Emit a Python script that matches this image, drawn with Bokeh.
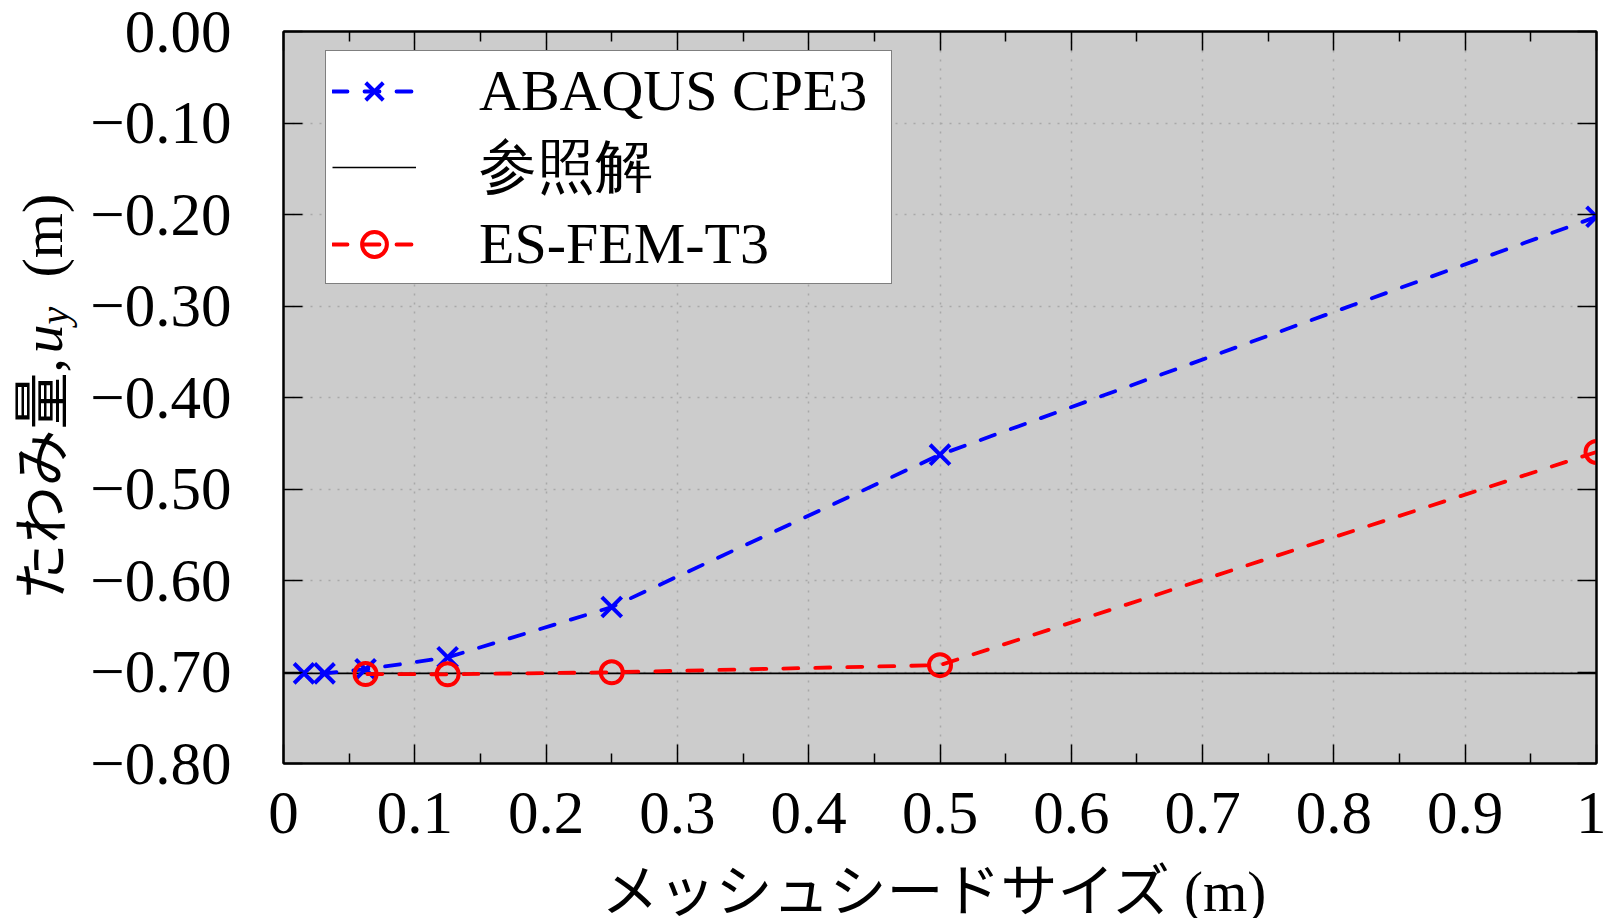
import math
from bokeh.plotting import figure
from bokeh.layouts import row, column
from bokeh.models import (Range1d, FixedTicker, LinearAxis, CustomJSTickFormatter,
                          Legend, LegendItem, Label)
from bokeh.embed import file_html
from bokeh.resources import INLINE

# ---------------- data ----------------
ABAQUS_H = [1.0, 0.5, 0.25, 0.125, 0.0625, 0.03125, 0.015625]
ABAQUS_UY = [-0.2025, -0.4625, -0.629, -0.684, -0.697, -0.7015, -0.7015]

ESFEM_H = [1.0, 0.5, 0.25, 0.125, 0.0625]
ESFEM_UY = [-0.4595, -0.6925, -0.7003, -0.7025, -0.7022]

REF_UY = -0.7015

X_LIMITS = [0.0, 1.0]
Y_LIMITS = [-0.8, 0.0]

X_TICKS = [0.0, 0.1, 0.2, 0.3, 0.4, 0.5, 0.6, 0.7, 0.8, 0.9, 1.0]
X_TICK_LABELS = ["0", "0.1", "0.2", "0.3", "0.4", "0.5", "0.6", "0.7", "0.8", "0.9", "1"]
X_MINOR_TICKS = [0.05, 0.15, 0.25, 0.35, 0.45, 0.55, 0.65, 0.75, 0.85, 0.95]

Y_TICKS = [-0.8, -0.7, -0.6, -0.5, -0.4, -0.3, -0.2, -0.1, 0.0]
Y_TICK_LABELS = ["\u22120.80", "\u22120.70", "\u22120.60", "\u22120.50", "\u22120.40",
                 "\u22120.30", "\u22120.20", "\u22120.10", "0.00"]

SERIES_LABELS = ["ABAQUS CPE3", "参照解", "ES-FEM-T3"]
X_LABEL = "メッシュシードサイズ (m)"
Y_LABEL_PARTS = ["たわみ量,", "u", "y", "(m)"]

# ---------------- style ----------------
SERIF = "Liberation Serif"
MIXED = "'Liberation Serif', 'Noto Sans CJK JP'"
BLUE = "#0000ff"
RED = "#ff0000"

TOTAL_W, TOTAL_H = 1606, 918
YLAB_W = 86          # strip on the left holding the y title
XLAB_H = 63          # strip at the bottom holding the x title
MAIN_W = TOTAL_W - YLAB_W
MAIN_H = TOTAL_H - XLAB_H

p = figure(width=MAIN_W, height=MAIN_H,
           x_range=Range1d(*X_LIMITS), y_range=Range1d(*Y_LIMITS),
           output_backend="svg", toolbar_location=None,
           min_border_left=197, min_border_right=10, min_border_top=31, min_border_bottom=92,
           background_fill_color="#cccccc", border_fill_color="white",
           outline_line_color="black", outline_line_width=2)

fmt_code = """
const i = tvals.findIndex(t => Math.abs(t - tick) < 1e-9);
return i >= 0 ? tlabels[i] : "";
"""
x_fmt = CustomJSTickFormatter(args=dict(tvals=X_TICKS, tlabels=X_TICK_LABELS), code=fmt_code)
y_fmt = CustomJSTickFormatter(args=dict(tvals=Y_TICKS, tlabels=Y_TICK_LABELS), code=fmt_code)
empty_fmt = CustomJSTickFormatter(code='return "";')

x_ticker = FixedTicker(ticks=X_TICKS, minor_ticks=X_MINOR_TICKS)
y_ticker = FixedTicker(ticks=Y_TICKS, minor_ticks=[])


def style_axis(ax):
    ax.major_tick_in = 19
    ax.major_tick_out = 0
    ax.minor_tick_in = 10
    ax.minor_tick_out = 0
    ax.axis_line_color = "black"
    ax.axis_line_width = 2
    ax.major_tick_line_color = "black"
    ax.major_tick_line_width = 1.5
    ax.minor_tick_line_color = "black"
    ax.minor_tick_line_width = 1.5
    ax.major_label_text_font = SERIF
    ax.major_label_text_font_size = "61px"
    ax.major_label_text_color = "black"


xa = p.xaxis[0]
xa.ticker = x_ticker
xa.formatter = x_fmt
style_axis(xa)
xa.major_label_standoff = 29

ya = p.yaxis[0]
ya.ticker = y_ticker
ya.formatter = y_fmt
style_axis(ya)
ya.major_label_standoff = 52

top_ax = LinearAxis(ticker=x_ticker, formatter=empty_fmt, major_label_standoff=0)
style_axis(top_ax)
top_ax.major_label_text_font_size = "1px"
p.add_layout(top_ax, "above")

right_ax = LinearAxis(ticker=y_ticker, formatter=empty_fmt, major_label_standoff=0)
style_axis(right_ax)
right_ax.major_label_text_font_size = "1px"
p.add_layout(right_ax, "right")

for g, t in ((p.xgrid, X_TICKS), (p.ygrid, Y_TICKS)):
    g.ticker = FixedTicker(ticks=t)
    g.grid_line_color = "#a8a8a8"
    g.grid_line_width = 1.5
    g.grid_line_dash = "2 7"

# ---------------- glyphs ----------------
ref_r = p.line(x=X_LIMITS, y=[REF_UY, REF_UY], line_color="black", line_width=1.6)

ab_line = p.line(x=ABAQUS_H, y=ABAQUS_UY, line_color=BLUE, line_width=3.8,
                 line_dash="15 17", line_cap="round")
ab_pts = p.scatter(x=ABAQUS_H, y=ABAQUS_UY, marker="x", size=28, line_color=BLUE,
                   line_width=4)

es_line = p.line(x=ESFEM_H, y=ESFEM_UY, line_color=RED, line_width=3.8,
                 line_dash="15 17", line_cap="round")
es_pts = p.scatter(x=ESFEM_H, y=ESFEM_UY, marker="circle", size=22, line_color=RED,
                   line_width=4, fill_color=None)

legend = Legend(items=[
    LegendItem(label=SERIES_LABELS[0], renderers=[ab_line, ab_pts]),
    LegendItem(label=SERIES_LABELS[1], renderers=[ref_r]),
    LegendItem(label=SERIES_LABELS[2], renderers=[es_line, es_pts]),
], location=(42, 479), padding=6, spacing=4, margin=0,
    glyph_width=84, glyph_height=62, label_standoff=63, label_width=406,
    label_text_font=SERIF, label_text_font_size="58px", label_text_color="black",
    border_line_color="black", border_line_width=1.5,
    background_fill_color="white", background_fill_alpha=1.0)
p.add_layout(legend)


def blank_fig(w, h):
    f = figure(width=w, height=h, x_range=Range1d(0, 1), y_range=Range1d(0, 1),
               output_backend="svg", toolbar_location=None,
               x_axis_location=None, y_axis_location=None,
               min_border=0, outline_line_color=None,
               background_fill_color="white", border_fill_color="white")
    f.grid.visible = False
    return f


# ---------------- x title strip ----------------
# (its frame is aligned with the main frame by the column layout)
xfig = blank_fig(MAIN_W, XLAB_H)
xfig.add_layout(Label(x=318, y=27, x_units="screen", y_units="screen", text=X_LABEL,
                      text_font=MIXED, text_font_size="57px", text_align="left",
                      text_baseline="middle", text_color="black"))

# ---------------- y title strip ----------------
yfig = blank_fig(YLAB_W, TOTAL_H)
ylab_specs = [
    (Y_LABEL_PARTS[0], 318, 42, MIXED, "57px", "normal"),
    (Y_LABEL_PARTS[1], 565, 42, SERIF, "58px", "italic"),
    (Y_LABEL_PARTS[2], 594, 54, SERIF, "40px", "italic"),
    (Y_LABEL_PARTS[3], 641, 42, SERIF, "58px", "normal"),
]
for txt, sy, sx, font, size, style in ylab_specs:
    yfig.add_layout(Label(x=sx, y=sy, x_units="screen", y_units="screen", text=txt,
                          angle=math.pi / 2, text_font=font, text_font_size=size,
                          text_font_style=style, text_align="left", text_baseline="middle",
                          text_color="black"))

layout = row(yfig, column(p, xfig, spacing=0), spacing=0)

open("out.html", "w").write(file_html(layout, INLINE))
